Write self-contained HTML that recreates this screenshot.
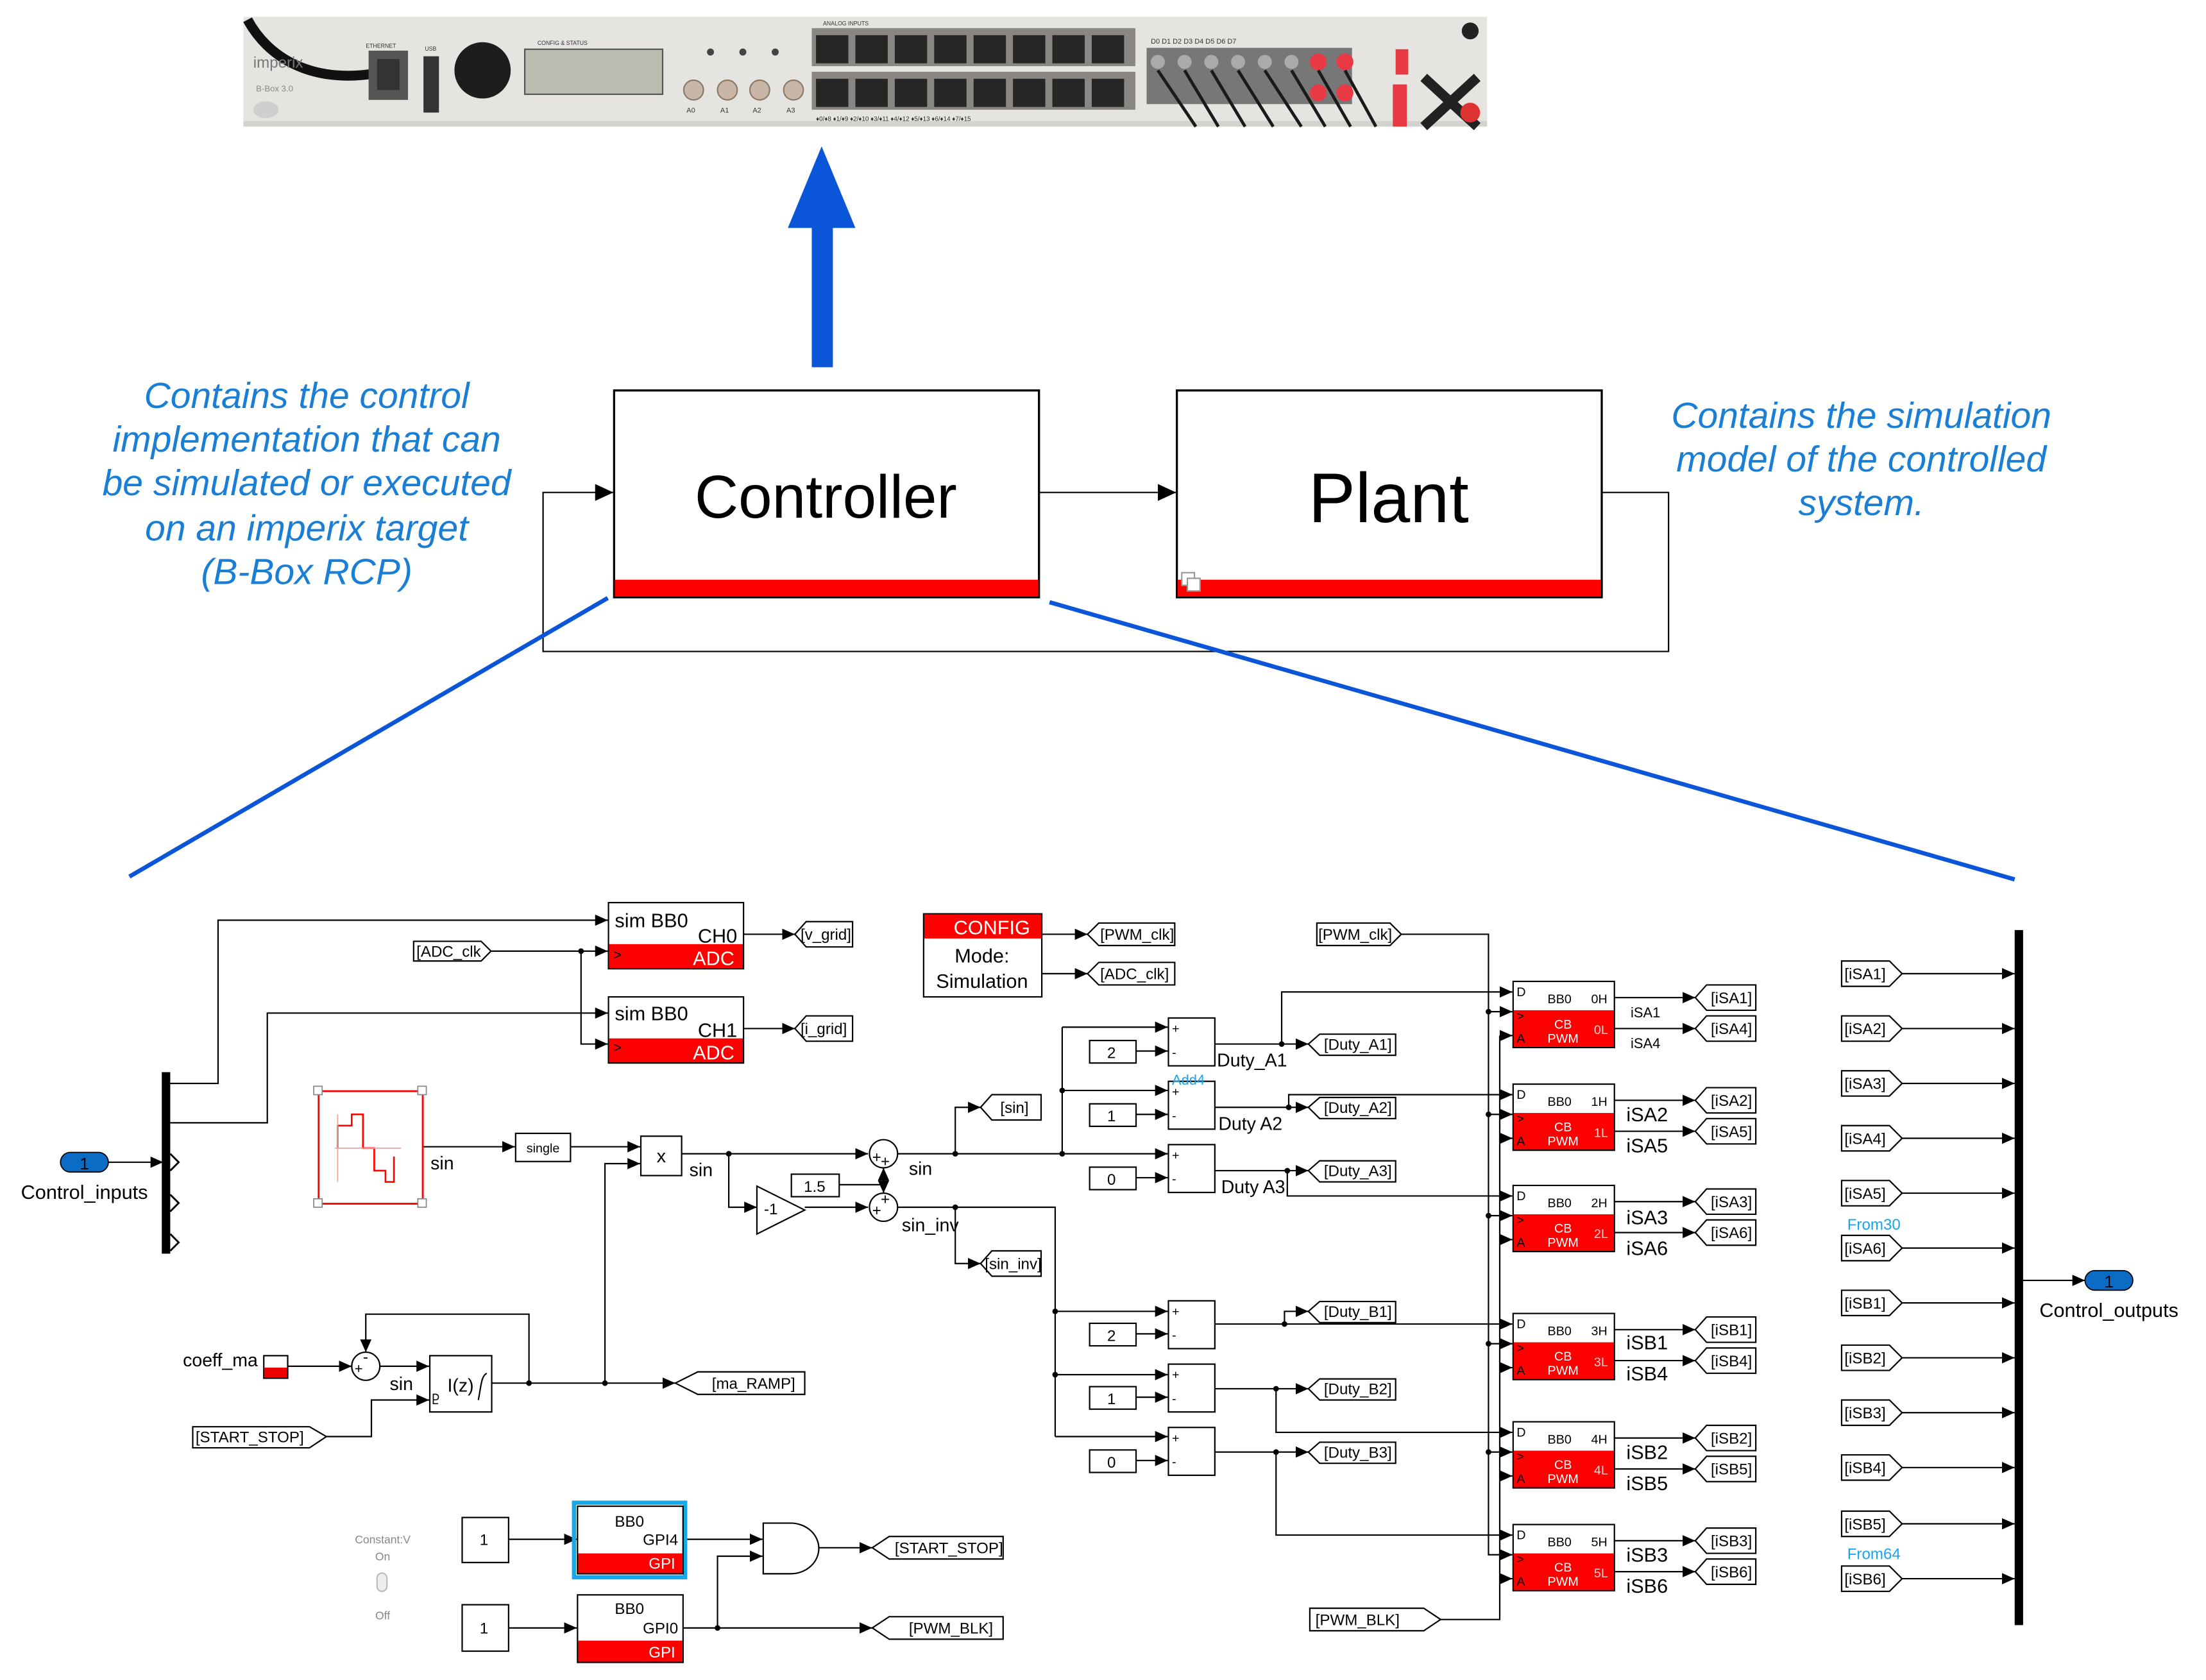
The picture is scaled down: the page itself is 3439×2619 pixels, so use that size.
<!DOCTYPE html>
<html><head><meta charset="utf-8"><style>
html,body{margin:0;padding:0;background:#fff}
svg{display:block}
text{font-family:"Liberation Sans",sans-serif}
</style></head><body>
<svg width="3439" height="2619" viewBox="0 0 1568 1194" preserveAspectRatio="none" xmlns="http://www.w3.org/2000/svg">
<defs>
<marker id="a" markerUnits="userSpaceOnUse" markerWidth="9" markerHeight="8" refX="9" refY="4" orient="auto"><path d="M0,0 L9,4 L0,8 Z" fill="#000"/></marker>
<marker id="ab" markerUnits="userSpaceOnUse" markerWidth="13" markerHeight="12" refX="13" refY="6" orient="auto"><path d="M0,0 L13,6 L0,12 Z" fill="#000"/></marker>
</defs>
<rect width="1568" height="1194" fill="#fff"/>

<!-- ===== B-Box photo ===== -->
<rect x="173" y="12" width="884" height="78" fill="#e6e4e0"/>
<rect x="173" y="86" width="884" height="4" fill="#d4d2ce"/>
<path d="M176,14 C190,40 220,60 268,52" stroke="#111" stroke-width="7" fill="none"/>
<text x="180" y="48" font-size="11" fill="#777">imperix</text>
<text x="182" y="65" font-size="6" fill="#888">B-Box 3.0</text>
<ellipse cx="189" cy="78" rx="9" ry="6" fill="#cfcfcf"/>
<rect x="262" y="36" width="28" height="35" fill="#555"/>
<rect x="268" y="42" width="16" height="22" fill="#333"/>
<text x="260" y="34" font-size="4" fill="#333">ETHERNET</text>
<rect x="301" y="40" width="11" height="40" fill="#333"/>
<text x="302" y="36" font-size="4" fill="#333">USB</text>
<circle cx="343" cy="50" r="20" fill="#1d1d1d"/>
<rect x="373" y="35" width="98" height="32" fill="#b9beb1" stroke="#555" stroke-width="1"/>
<text x="382" y="32" font-size="4" fill="#333">CONFIG &amp; STATUS</text>
<circle cx="505" cy="37" r="2.5" fill="#444"/><circle cx="528" cy="37" r="2.5" fill="#444"/><circle cx="551" cy="37" r="2.5" fill="#444"/>
<circle cx="493" cy="64" r="7" fill="#c9b6a6" stroke="#8a7a6a"/><circle cx="517" cy="64" r="7" fill="#c9b6a6" stroke="#8a7a6a"/>
<circle cx="540" cy="64" r="7" fill="#c9b6a6" stroke="#8a7a6a"/><circle cx="564" cy="64" r="7" fill="#c9b6a6" stroke="#8a7a6a"/>
<text x="488" y="80" font-size="5" fill="#333">A0</text><text x="512" y="80" font-size="5" fill="#333">A1</text>
<text x="535" y="80" font-size="5" fill="#333">A2</text><text x="559" y="80" font-size="5" fill="#333">A3</text>
<text x="585" y="18" font-size="4" fill="#333">ANALOG INPUTS</text>
<rect x="577" y="20" width="230" height="27" fill="#8a8782"/>
<rect x="577" y="51" width="230" height="27" fill="#8a8782"/>
<g fill="#262626">
<rect x="580" y="25" width="23" height="20"/><rect x="608" y="25" width="23" height="20"/><rect x="636" y="25" width="23" height="20"/><rect x="664" y="25" width="23" height="20"/>
<rect x="692" y="25" width="23" height="20"/><rect x="720" y="25" width="23" height="20"/><rect x="748" y="25" width="23" height="20"/><rect x="776" y="25" width="23" height="20"/>
<rect x="580" y="56" width="23" height="20"/><rect x="608" y="56" width="23" height="20"/><rect x="636" y="56" width="23" height="20"/><rect x="664" y="56" width="23" height="20"/>
<rect x="692" y="56" width="23" height="20"/><rect x="720" y="56" width="23" height="20"/><rect x="748" y="56" width="23" height="20"/><rect x="776" y="56" width="23" height="20"/>
</g>
<text x="580" y="86" font-size="4.5" fill="#333">♦0/♦8  ♦1/♦9  ♦2/♦10  ♦3/♦11  ♦4/♦12  ♦5/♦13  ♦6/♦14  ♦7/♦15</text>
<text x="818" y="31" font-size="5" fill="#333">D0   D1   D2   D3   D4   D5   D6   D7</text>
<rect x="815" y="34" width="146" height="40" fill="#777"/>
<g fill="#aaa"><circle cx="823" cy="44" r="5"/><circle cx="842" cy="44" r="5"/><circle cx="861" cy="44" r="5"/><circle cx="880" cy="44" r="5"/><circle cx="899" cy="44" r="5"/><circle cx="918" cy="44" r="5"/></g>
<circle cx="937" cy="44" r="6" fill="#e83a45"/><circle cx="956" cy="44" r="6" fill="#e83a45"/>
<circle cx="937" cy="66" r="6" fill="#e83a45"/><circle cx="956" cy="66" r="6" fill="#e83a45"/>
<g stroke="#1a1a1a" stroke-width="2.2" fill="none">
<path d="M823,50 L850,90"/><path d="M842,50 L866,90"/><path d="M861,50 L885,90"/><path d="M880,50 L905,90"/><path d="M899,50 L925,90"/><path d="M918,50 L942,90"/><path d="M937,50 L960,90"/><path d="M956,50 L978,90"/>
</g>
<rect x="992" y="35" width="9" height="18" fill="#e83a45"/>
<rect x="990" y="60" width="10" height="30" fill="#e83a45"/>
<path d="M1012,55 L1050,90 M1050,55 L1012,90" stroke="#222" stroke-width="7"/>
<circle cx="1045" cy="22" r="6" fill="#222"/>
<circle cx="1045" cy="80" r="7" fill="#d33"/>

<!-- ===== blue arrow ===== -->
<rect x="577" y="158" width="15" height="103" fill="#0a55d8"/>
<path d="M560,162 L584,104 L608,162 Z" fill="#0a55d8"/>

<!-- ===== Controller / Plant ===== -->
<rect x="436.5" y="277.5" width="302" height="147" fill="#fff" stroke="#000" stroke-width="1.5"/>
<rect x="437" y="412" width="301" height="12" fill="#f00"/>
<text x="587" y="368" font-size="43" text-anchor="middle">Controller</text>
<rect x="836.5" y="277.5" width="302" height="147" fill="#fff" stroke="#000" stroke-width="1.5"/>
<rect x="837" y="412" width="301" height="12" fill="#f00"/>
<text x="987" y="371" font-size="50" text-anchor="middle">Plant</text>
<rect x="840" y="407" width="9" height="9" fill="#fff" stroke="#999"/><rect x="844" y="411" width="9" height="9" fill="#fff" stroke="#999"/>
<g stroke="#000" stroke-width="1" fill="none">
<line x1="739" y1="350" x2="836" y2="350" marker-end="url(#ab)"/>
<polyline points="1139,350 1186,350 1186,463 386,463 386,350 436,350" marker-end="url(#ab)"/>
</g>
<g font-size="26" font-style="italic" fill="#1a7fd4" text-anchor="middle">
<text x="218" y="290">Contains the control</text>
<text x="218" y="321">implementation that can</text>
<text x="218" y="352">be simulated or executed</text>
<text x="218" y="384">on an imperix target</text>
<text x="218" y="415">(B-Box RCP)</text>
<text x="1323" y="304">Contains the simulation</text>
<text x="1323" y="335">model of the controlled</text>
<text x="1323" y="366">system.</text>
</g>
<line x1="432" y1="425" x2="92" y2="623" stroke="#0a55d8" stroke-width="3"/>
<line x1="746" y1="428" x2="1432" y2="625" stroke="#0a55d8" stroke-width="3"/>

<!-- ===== Simulink diagram ===== -->
<g stroke="#000" stroke-width="1" fill="none">
<line x1="77" y1="826" x2="116" y2="826" marker-end="url(#a)"/>
<polyline points="121,770 155,770 155,654 432,654" marker-end="url(#a)"/>
<polyline points="121,798 190,798 190,720 432,720" marker-end="url(#a)"/>
<line x1="349" y1="676" x2="432" y2="676" marker-end="url(#a)"/>
<polyline points="413,676 413,742 432,742" marker-end="url(#a)"/>
<line x1="528" y1="664" x2="565" y2="664" marker-end="url(#a)"/>
<line x1="528" y1="731" x2="565" y2="731" marker-end="url(#a)"/>
<line x1="740" y1="664" x2="773" y2="664" marker-end="url(#a)"/>
<line x1="740" y1="692" x2="773" y2="692" marker-end="url(#a)"/>
<line x1="300" y1="815" x2="366" y2="815" marker-end="url(#a)"/>
<line x1="405" y1="815" x2="455" y2="815" marker-end="url(#a)"/>
<polyline points="430,983 430,827 455,827" marker-end="url(#a)"/>
<line x1="484" y1="820" x2="617" y2="820" marker-end="url(#a)"/>
<polyline points="518,820 518,858 538,858" marker-end="url(#a)"/>
<line x1="572" y1="858" x2="617" y2="858" marker-end="url(#a)"/>
<line x1="596" y1="842" x2="628" y2="842"/>
<line x1="628" y1="842" x2="628" y2="830" marker-end="url(#a)"/>
<line x1="628" y1="842" x2="628" y2="848" marker-end="url(#a)"/>
<line x1="638" y1="820" x2="755" y2="820"/>
<polyline points="679,820 679,787 697,787" marker-end="url(#a)"/>
<polyline points="638,858 750,858 750,1021"/>
<polyline points="679,858 679,898 697,898" marker-end="url(#a)"/>
<polyline points="755,730 755,820"/>
<line x1="755" y1="730" x2="830" y2="730" marker-end="url(#a)"/>
<line x1="755" y1="775" x2="830" y2="775" marker-end="url(#a)"/>
<line x1="755" y1="820" x2="830" y2="820" marker-end="url(#a)"/>
<line x1="807" y1="747" x2="830" y2="747" marker-end="url(#a)"/>
<line x1="807" y1="792" x2="830" y2="792" marker-end="url(#a)"/>
<line x1="807" y1="837" x2="830" y2="837" marker-end="url(#a)"/>
<line x1="750" y1="932" x2="830" y2="932" marker-end="url(#a)"/>
<line x1="750" y1="977" x2="830" y2="977" marker-end="url(#a)"/>
<line x1="750" y1="1021" x2="830" y2="1021" marker-end="url(#a)"/>
<line x1="807" y1="948" x2="830" y2="948" marker-end="url(#a)"/>
<line x1="807" y1="993" x2="830" y2="993" marker-end="url(#a)"/>
<line x1="807" y1="1038" x2="830" y2="1038" marker-end="url(#a)"/>
<line x1="863" y1="742" x2="930" y2="742" marker-end="url(#a)"/>
<polyline points="911,742 911,705 1075,705" marker-end="url(#a)"/>
<line x1="863" y1="787" x2="930" y2="787" marker-end="url(#a)"/>
<polyline points="916,787 916,778 1075,778" marker-end="url(#a)"/>
<line x1="863" y1="832" x2="930" y2="832" marker-end="url(#a)"/>
<polyline points="915,832 915,850 1075,850" marker-end="url(#a)"/>
<line x1="863" y1="941" x2="1075" y2="941" marker-end="url(#a)"/>
<polyline points="913,941 913,932 930,932" marker-end="url(#a)"/>
<line x1="863" y1="987" x2="930" y2="987" marker-end="url(#a)"/>
<polyline points="907,987 907,1018 1075,1018" marker-end="url(#a)"/>
<line x1="863" y1="1032" x2="930" y2="1032" marker-end="url(#a)"/>
<polyline points="907,1032 907,1091 1075,1091" marker-end="url(#a)"/>
<polyline points="996,664 1058,664 1058,1105 1075,1105" marker-end="url(#a)"/>
<line x1="1058" y1="719" x2="1075" y2="719" marker-end="url(#a)"/>
<line x1="1058" y1="792" x2="1075" y2="792" marker-end="url(#a)"/>
<line x1="1058" y1="864" x2="1075" y2="864" marker-end="url(#a)"/>
<line x1="1058" y1="955" x2="1075" y2="955" marker-end="url(#a)"/>
<line x1="1058" y1="1032" x2="1075" y2="1032" marker-end="url(#a)"/>
<polyline points="1024,1151 1066,1151 1066,736"/>
<line x1="1066" y1="736" x2="1075" y2="736" marker-end="url(#a)"/>
<line x1="1066" y1="809" x2="1075" y2="809" marker-end="url(#a)"/>
<line x1="1066" y1="881" x2="1075" y2="881" marker-end="url(#a)"/>
<line x1="1066" y1="972" x2="1075" y2="972" marker-end="url(#a)"/>
<line x1="1066" y1="1049" x2="1075" y2="1049" marker-end="url(#a)"/>
<line x1="1066" y1="1122" x2="1075" y2="1122" marker-end="url(#a)"/>
<line x1="1147" y1="709" x2="1205" y2="709" marker-end="url(#a)"/><line x1="1147" y1="731" x2="1205" y2="731" marker-end="url(#a)"/>
<line x1="1147" y1="782" x2="1205" y2="782" marker-end="url(#a)"/><line x1="1147" y1="804" x2="1205" y2="804" marker-end="url(#a)"/>
<line x1="1147" y1="854" x2="1205" y2="854" marker-end="url(#a)"/><line x1="1147" y1="876" x2="1205" y2="876" marker-end="url(#a)"/>
<line x1="1147" y1="945" x2="1205" y2="945" marker-end="url(#a)"/><line x1="1147" y1="967" x2="1205" y2="967" marker-end="url(#a)"/>
<line x1="1147" y1="1022" x2="1205" y2="1022" marker-end="url(#a)"/><line x1="1147" y1="1044" x2="1205" y2="1044" marker-end="url(#a)"/>
<line x1="1147" y1="1095" x2="1205" y2="1095" marker-end="url(#a)"/><line x1="1147" y1="1117" x2="1205" y2="1117" marker-end="url(#a)"/>
<line x1="204" y1="971" x2="250" y2="971" marker-end="url(#a)"/>
<line x1="270" y1="971" x2="305" y2="971" marker-end="url(#a)"/>
<polyline points="232,1021 264,1021 264,995 305,995" marker-end="url(#a)"/>
<line x1="349" y1="983" x2="480" y2="983" marker-end="url(#a)"/>
<polyline points="376,983 376,934 260,934 260,961" marker-end="url(#a)"/>
<line x1="361" y1="1094" x2="410" y2="1094" marker-end="url(#a)"/>
<line x1="361" y1="1157" x2="410" y2="1157" marker-end="url(#a)"/>
<line x1="486" y1="1094" x2="542" y2="1094" marker-end="url(#a)"/>
<line x1="486" y1="1157" x2="620" y2="1157" marker-end="url(#a)"/>
<polyline points="510,1157 510,1106 542,1106" marker-end="url(#a)"/>
<line x1="582" y1="1100" x2="620" y2="1100" marker-end="url(#a)"/>
<line x1="1352" y1="692" x2="1432" y2="692" marker-end="url(#a)"/>
<line x1="1352" y1="731" x2="1432" y2="731" marker-end="url(#a)"/>
<line x1="1352" y1="770" x2="1432" y2="770" marker-end="url(#a)"/>
<line x1="1352" y1="809" x2="1432" y2="809" marker-end="url(#a)"/>
<line x1="1352" y1="848" x2="1432" y2="848" marker-end="url(#a)"/>
<line x1="1352" y1="887" x2="1432" y2="887" marker-end="url(#a)"/>
<line x1="1352" y1="926" x2="1432" y2="926" marker-end="url(#a)"/>
<line x1="1352" y1="965" x2="1432" y2="965" marker-end="url(#a)"/>
<line x1="1352" y1="1004" x2="1432" y2="1004" marker-end="url(#a)"/>
<line x1="1352" y1="1043" x2="1432" y2="1043" marker-end="url(#a)"/>
<line x1="1352" y1="1083" x2="1432" y2="1083" marker-end="url(#a)"/>
<line x1="1352" y1="1122" x2="1432" y2="1122" marker-end="url(#a)"/>
<line x1="1438" y1="910" x2="1482" y2="910" marker-end="url(#a)"/>
</g>
<g fill="#000">
<circle cx="413" cy="676" r="2"/><circle cx="518" cy="820" r="2"/><circle cx="679" cy="820" r="2"/><circle cx="679" cy="858" r="2"/>
<circle cx="755" cy="775" r="2"/><circle cx="755" cy="820" r="2"/><circle cx="750" cy="932" r="2"/><circle cx="750" cy="977" r="2"/>
<circle cx="911" cy="742" r="2"/><circle cx="916" cy="787" r="2"/><circle cx="915" cy="832" r="2"/><circle cx="913" cy="941" r="2"/>
<circle cx="907" cy="987" r="2"/><circle cx="907" cy="1032" r="2"/>
<circle cx="1058" cy="719" r="2"/><circle cx="1058" cy="792" r="2"/><circle cx="1058" cy="864" r="2"/><circle cx="1058" cy="955" r="2"/><circle cx="1058" cy="1032" r="2"/>
<circle cx="376" cy="983" r="2"/><circle cx="430" cy="983" r="2"/><circle cx="510" cy="1157" r="2"/>
</g>

<rect x="43" y="819" width="34" height="14" rx="7" fill="#0a6cc4" stroke="#000" stroke-width="0.8"/>
<text x="60" y="831" font-size="12" text-anchor="middle">1</text>
<text x="60" y="852" font-size="14" text-anchor="middle">Control_inputs</text>
<rect x="115" y="762" width="6" height="129" fill="#000"/>
<g stroke="#000" fill="none" stroke-width="1.3"><path d="M121,820 L127,826 L121,832"/><path d="M121,849 L127,855 L121,861"/><path d="M121,877 L127,883 L121,889"/></g>

<g stroke="#000" stroke-width="1">
<rect x="432.5" y="641.5" width="96" height="47" fill="#fff"/>
<rect x="433" y="671" width="95" height="17" fill="#f00" stroke="none"/>
<rect x="432.5" y="708.5" width="96" height="47" fill="#fff"/>
<rect x="433" y="738" width="95" height="17" fill="#f00" stroke="none"/>
</g>
<g font-size="14">
<text x="437" y="659">sim BB0</text><text x="524" y="670" text-anchor="end">CH0</text><text x="522" y="686" text-anchor="end" fill="#fff">ADC</text><text x="436" y="682" font-size="10">&gt;</text>
<text x="437" y="725">sim BB0</text><text x="524" y="737" text-anchor="end">CH1</text><text x="522" y="753" text-anchor="end" fill="#fff">ADC</text><text x="436" y="748" font-size="10">&gt;</text>
</g>

<rect x="656.5" y="649.5" width="84" height="59" fill="#fff" stroke="#000"/>
<rect x="657" y="650" width="83" height="17" fill="#f00"/>
<text x="705" y="664" font-size="14" fill="#fff" text-anchor="middle">CONFIG</text>
<text x="698" y="684" font-size="14" text-anchor="middle">Mode:</text>
<text x="698" y="702" font-size="14" text-anchor="middle">Simulation</text>

<g fill="#fff" stroke="#000" stroke-width="1">
<polygon points="294,669 342,669 349,676 342,683 294,683"/>
<polygon points="565,664 573,655 606,655 606,673 573,673"/>
<polygon points="565,731 573,722 606,722 606,740 573,740"/>
<polygon points="773,664 781,656 835,656 835,672 781,672"/>
<polygon points="773,692 781,684 835,684 835,700 781,700"/>
<polygon points="697,787 705,778 740,778 740,796 705,796"/>
<polygon points="697,898 705,889 740,889 740,907 705,907"/>
<polygon points="936,656 988,656 996,664 988,672 936,672"/>
<polygon points="930,742 938,735 992,735 992,750 938,750"/>
<polygon points="930,787 938,780 992,780 992,795 938,795"/>
<polygon points="930,832 938,825 992,825 992,840 938,840"/>
<polygon points="930,932 938,925 992,925 992,940 938,940"/>
<polygon points="930,987 938,980 992,980 992,995 938,995"/>
<polygon points="930,1032 938,1025 992,1025 992,1040 938,1040"/>
<polygon points="931,1143 1012,1143 1024,1151 1012,1159 931,1159"/>
<polygon points="480,983 496,975 572,975 572,991 496,991"/>
<polygon points="137,1014 220,1014 232,1021 220,1029 137,1029"/>
<polygon points="620,1100 632,1092 713,1092 713,1108 632,1108"/>
<polygon points="620,1157 632,1149 713,1149 713,1165 632,1165"/>
<polygon points="1205,709 1213,700 1248,700 1248,718 1213,718"/>
<polygon points="1205,731 1213,722 1248,722 1248,740 1213,740"/>
<polygon points="1205,782 1213,773 1248,773 1248,791 1213,791"/>
<polygon points="1205,804 1213,795 1248,795 1248,813 1213,813"/>
<polygon points="1205,854 1213,845 1248,845 1248,863 1213,863"/>
<polygon points="1205,876 1213,867 1248,867 1248,885 1213,885"/>
<polygon points="1205,945 1213,936 1248,936 1248,954 1213,954"/>
<polygon points="1205,967 1213,958 1248,958 1248,976 1213,976"/>
<polygon points="1205,1022 1213,1013 1248,1013 1248,1031 1213,1031"/>
<polygon points="1205,1044 1213,1035 1248,1035 1248,1053 1213,1053"/>
<polygon points="1205,1095 1213,1086 1248,1086 1248,1104 1213,1104"/>
<polygon points="1205,1117 1213,1108 1248,1108 1248,1126 1213,1126"/>
<polygon points="1309,683 1343,683 1352,692 1343,701 1309,701"/>
<polygon points="1309,722 1343,722 1352,731 1343,740 1309,740"/>
<polygon points="1309,761 1343,761 1352,770 1343,779 1309,779"/>
<polygon points="1309,800 1343,800 1352,809 1343,818 1309,818"/>
<polygon points="1309,839 1343,839 1352,848 1343,857 1309,857"/>
<polygon points="1309,878 1343,878 1352,887 1343,896 1309,896"/>
<polygon points="1309,917 1343,917 1352,926 1343,935 1309,935"/>
<polygon points="1309,956 1343,956 1352,965 1343,974 1309,974"/>
<polygon points="1309,995 1343,995 1352,1004 1343,1013 1309,1013"/>
<polygon points="1309,1034 1343,1034 1352,1043 1343,1052 1309,1052"/>
<polygon points="1309,1074 1343,1074 1352,1083 1343,1092 1309,1092"/>
<polygon points="1309,1113 1343,1113 1352,1122 1343,1131 1309,1131"/>
</g>
<g font-size="11">
<text x="296" y="680">[ADC_clk</text>
<text x="569" y="668">[v_grid]</text><text x="569" y="735">[i_grid]</text>
<text x="782" y="668">[PWM_clk]</text><text x="782" y="696">[ADC_clk]</text>
<text x="711" y="791">[sin]</text><text x="700" y="902">[sin_inv]</text>
<text x="937" y="668">[PWM_clk]</text>
<text x="941" y="746">[Duty_A1]</text><text x="941" y="791">[Duty_A2]</text><text x="941" y="836">[Duty_A3]</text>
<text x="941" y="936">[Duty_B1]</text><text x="941" y="991">[Duty_B2]</text><text x="941" y="1036">[Duty_B3]</text>
<text x="935" y="1155">[PWM_BLK]</text>
<text x="506" y="987">[ma_RAMP]</text>
<text x="139" y="1025">[START_STOP]</text>
<text x="636" y="1104">[START_STOP]</text>
<text x="646" y="1161">[PWM_BLK]</text>
<text x="1216" y="713">[iSA1]</text><text x="1216" y="735">[iSA4]</text>
<text x="1216" y="786">[iSA2]</text><text x="1216" y="808">[iSA5]</text>
<text x="1216" y="858">[iSA3]</text><text x="1216" y="880">[iSA6]</text>
<text x="1216" y="949">[iSB1]</text><text x="1216" y="971">[iSB4]</text>
<text x="1216" y="1026">[iSB2]</text><text x="1216" y="1048">[iSB5]</text>
<text x="1216" y="1099">[iSB3]</text><text x="1216" y="1121">[iSB6]</text>
<text x="1311" y="696">[iSA1]</text><text x="1311" y="735">[iSA2]</text><text x="1311" y="774">[iSA3]</text>
<text x="1311" y="813">[iSA4]</text><text x="1311" y="852">[iSA5]</text><text x="1311" y="891">[iSA6]</text>
<text x="1311" y="930">[iSB1]</text><text x="1311" y="969">[iSB2]</text><text x="1311" y="1008">[iSB3]</text>
<text x="1311" y="1047">[iSB4]</text><text x="1311" y="1087">[iSB5]</text><text x="1311" y="1126">[iSB6]</text>
</g>
<text x="1313" y="874" font-size="11" fill="#1aa3ee">From30</text>
<text x="1313" y="1108" font-size="11" fill="#1aa3ee">From64</text>

<rect x="226.5" y="775.5" width="74" height="80" fill="#fff" stroke="#f00" stroke-width="1.3"/>
<g fill="#fff" stroke="#888" stroke-width="0.8"><rect x="223" y="772" width="6" height="6"/><rect x="297" y="772" width="6" height="6"/><rect x="223" y="852" width="6" height="6"/><rect x="297" y="852" width="6" height="6"/></g>
<path d="M240,816 L240,800 L250,800 L250,792 L258,792 L258,816 L266,816 L266,832 L274,832 L274,840 L280,840 L280,822" stroke="#f00" fill="none" stroke-width="1.2"/>
<line x1="238" y1="816" x2="285" y2="816" stroke="#f4a0a0" stroke-width="0.8"/>
<line x1="240" y1="792" x2="240" y2="840" stroke="#f4a0a0" stroke-width="0.8"/>
<text x="306" y="831" font-size="13">sin</text>
<rect x="366.5" y="805.5" width="39" height="20" fill="#fff" stroke="#000"/>
<text x="386" y="819" font-size="9" text-anchor="middle">single</text>
<rect x="455.5" y="807.5" width="29" height="28" fill="#fff" stroke="#000"/>
<text x="470" y="826" font-size="13" text-anchor="middle">x</text>
<text x="490" y="836" font-size="13">sin</text>
<polygon points="538,843 572,860 538,877" fill="#fff" stroke="#000"/>
<text x="543" y="863" font-size="11">-1</text>
<rect x="562.5" y="834.5" width="34" height="16" fill="#fff" stroke="#000"/>
<text x="579" y="847" font-size="11" text-anchor="middle">1.5</text>
<circle cx="628" cy="820" r="10" fill="#fff" stroke="#000"/>
<circle cx="628" cy="858" r="10" fill="#fff" stroke="#000"/>
<text x="620" y="826" font-size="11">+</text><text x="626" y="829" font-size="11">+</text>
<text x="620" y="864" font-size="11">+</text><text x="626" y="856" font-size="11">+</text>
<text x="646" y="835" font-size="13">sin</text>
<text x="641" y="875" font-size="13">sin_inv</text>

<g fill="#fff" stroke="#000">
<rect x="774.5" y="739.5" width="33" height="16"/><rect x="774.5" y="784.5" width="33" height="16"/><rect x="774.5" y="829.5" width="33" height="16"/>
<rect x="774.5" y="940.5" width="33" height="16"/><rect x="774.5" y="985.5" width="33" height="16"/><rect x="774.5" y="1030.5" width="33" height="16"/>
<rect x="830.5" y="723.5" width="33" height="34"/><rect x="830.5" y="768.5" width="33" height="34"/><rect x="830.5" y="813.5" width="33" height="34"/>
<rect x="830.5" y="924.5" width="33" height="34"/><rect x="830.5" y="969.5" width="33" height="34"/><rect x="830.5" y="1014.5" width="33" height="34"/>
</g>
<g font-size="11" text-anchor="middle">
<text x="790" y="752">2</text><text x="790" y="797">1</text><text x="790" y="842">0</text>
<text x="790" y="953">2</text><text x="790" y="998">1</text><text x="790" y="1043">0</text>
</g>
<g font-size="9">
<text x="833" y="734">+</text><text x="833" y="751">-</text><text x="833" y="779">+</text><text x="833" y="796">-</text><text x="833" y="824">+</text><text x="833" y="841">-</text>
<text x="833" y="935">+</text><text x="833" y="952">-</text><text x="833" y="980">+</text><text x="833" y="997">-</text><text x="833" y="1025">+</text><text x="833" y="1042">-</text>
</g>
<text x="833" y="771" font-size="10" fill="#1aa3ee">Add4</text>
<g font-size="13">
<text x="865" y="758">Duty_A1</text><text x="866" y="803">Duty A2</text><text x="868" y="848">Duty A3</text>
</g>

<g stroke="#000"><rect x="1075.5" y="697.5" width="72" height="47" fill="#fff"/><rect x="1075.5" y="770.5" width="72" height="47" fill="#fff"/><rect x="1075.5" y="842.5" width="72" height="47" fill="#fff"/>
<rect x="1075.5" y="933.5" width="72" height="47" fill="#fff"/><rect x="1075.5" y="1010.5" width="72" height="47" fill="#fff"/><rect x="1075.5" y="1083.5" width="72" height="47" fill="#fff"/></g>
<g fill="#f00"><rect x="1076" y="718" width="71" height="26"/><rect x="1076" y="791" width="71" height="26"/><rect x="1076" y="863" width="71" height="26"/>
<rect x="1076" y="954" width="71" height="26"/><rect x="1076" y="1031" width="71" height="26"/><rect x="1076" y="1104" width="71" height="26"/></g>
<g font-size="9">
<text x="1078" y="708">D</text><text x="1100" y="713">BB0</text><text x="1131" y="713">0H</text><text x="1078" y="725">&gt;</text><text x="1078" y="741">A</text><text x="1143" y="735" text-anchor="end" fill="#ffd0d0">0L</text>
<text x="1078" y="781">D</text><text x="1100" y="786">BB0</text><text x="1131" y="786">1H</text><text x="1078" y="798">&gt;</text><text x="1078" y="814">A</text><text x="1143" y="808" text-anchor="end" fill="#ffd0d0">1L</text>
<text x="1078" y="853">D</text><text x="1100" y="858">BB0</text><text x="1131" y="858">2H</text><text x="1078" y="870">&gt;</text><text x="1078" y="886">A</text><text x="1143" y="880" text-anchor="end" fill="#ffd0d0">2L</text>
<text x="1078" y="944">D</text><text x="1100" y="949">BB0</text><text x="1131" y="949">3H</text><text x="1078" y="961">&gt;</text><text x="1078" y="977">A</text><text x="1143" y="971" text-anchor="end" fill="#ffd0d0">3L</text>
<text x="1078" y="1021">D</text><text x="1100" y="1026">BB0</text><text x="1131" y="1026">4H</text><text x="1078" y="1038">&gt;</text><text x="1078" y="1054">A</text><text x="1143" y="1048" text-anchor="end" fill="#ffd0d0">4L</text>
<text x="1078" y="1094">D</text><text x="1100" y="1099">BB0</text><text x="1131" y="1099">5H</text><text x="1078" y="1111">&gt;</text><text x="1078" y="1127">A</text><text x="1143" y="1121" text-anchor="end" fill="#ffd0d0">5L</text>
</g>
<g font-size="9" fill="#fff" text-anchor="middle">
<text x="1111" y="731">CB</text><text x="1111" y="741">PWM</text>
<text x="1111" y="804">CB</text><text x="1111" y="814">PWM</text>
<text x="1111" y="876">CB</text><text x="1111" y="886">PWM</text>
<text x="1111" y="967">CB</text><text x="1111" y="977">PWM</text>
<text x="1111" y="1044">CB</text><text x="1111" y="1054">PWM</text>
<text x="1111" y="1117">CB</text><text x="1111" y="1127">PWM</text>
</g>
<text x="1159" y="723" font-size="10">iSA1</text><text x="1159" y="745" font-size="10">iSA4</text>
<g font-size="14">
<text x="1156" y="797">iSA2</text><text x="1156" y="819">iSA5</text>
<text x="1156" y="870">iSA3</text><text x="1156" y="892">iSA6</text>
<text x="1156" y="959">iSB1</text><text x="1156" y="981">iSB4</text>
<text x="1156" y="1037">iSB2</text><text x="1156" y="1059">iSB5</text>
<text x="1156" y="1110">iSB3</text><text x="1156" y="1132">iSB6</text>
</g>

<text x="130" y="971" font-size="13">coeff_ma</text>
<rect x="187.5" y="963.5" width="17" height="16" fill="#fff" stroke="#000"/>
<rect x="188" y="972" width="16" height="7" fill="#e00"/>
<circle cx="260" cy="971" r="10" fill="#fff" stroke="#000"/>
<text x="252" y="976" font-size="10">+</text><text x="258" y="968" font-size="11">-</text>
<rect x="305.5" y="963.5" width="44" height="40" fill="#fff" stroke="#000"/>
<text x="318" y="989" font-size="13">I(z)</text>
<path d="M340,995 C342,985 342,978 346,976" stroke="#000" fill="none"/>
<text x="307" y="998" font-size="9">Ⴒ</text>
<text x="277" y="988" font-size="13">sin</text>

<text x="272" y="1097" font-size="8" fill="#888" text-anchor="middle">Constant:V</text>
<text x="272" y="1109" font-size="8" fill="#888" text-anchor="middle">On</text>
<rect x="268" y="1118" width="7" height="13" rx="3.5" fill="#eee" stroke="#bbb"/>
<text x="272" y="1151" font-size="8" fill="#888" text-anchor="middle">Off</text>
<rect x="328.5" y="1078.5" width="33" height="32" fill="#fff" stroke="#000"/>
<text x="344" y="1098" font-size="11" text-anchor="middle">1</text>
<rect x="328.5" y="1140.5" width="33" height="33" fill="#fff" stroke="#000"/>
<text x="344" y="1161" font-size="11" text-anchor="middle">1</text>
<rect x="408" y="1068" width="79" height="53" fill="none" stroke="#18a8e8" stroke-width="3"/>
<rect x="410.5" y="1070.5" width="75" height="48" fill="#fff" stroke="#000"/>
<rect x="411" y="1104" width="74" height="14" fill="#f00"/>
<text x="437" y="1085" font-size="11">BB0</text><text x="482" y="1098" font-size="11" text-anchor="end">GPI4</text><text x="480" y="1115" font-size="11" text-anchor="end" fill="#fff">GPI</text>
<rect x="410.5" y="1133.5" width="75" height="48" fill="#fff" stroke="#000"/>
<rect x="411" y="1166" width="74" height="15" fill="#f00"/>
<text x="437" y="1147" font-size="11">BB0</text><text x="482" y="1161" font-size="11" text-anchor="end">GPI0</text><text x="480" y="1178" font-size="11" text-anchor="end" fill="#fff">GPI</text>
<path d="M542.5,1082.5 L562,1082.5 A20,18 0 0 1 562,1118.5 L542.5,1118.5 Z" fill="#fff" stroke="#000"/>

<rect x="1432" y="661" width="6" height="494" fill="#000"/>
<rect x="1482" y="903" width="34" height="14" rx="7" fill="#0a6cc4" stroke="#000" stroke-width="0.8"/>
<text x="1499" y="915" font-size="12" text-anchor="middle">1</text>
<text x="1499" y="936" font-size="14" text-anchor="middle">Control_outputs</text>
</svg>
</body></html>
